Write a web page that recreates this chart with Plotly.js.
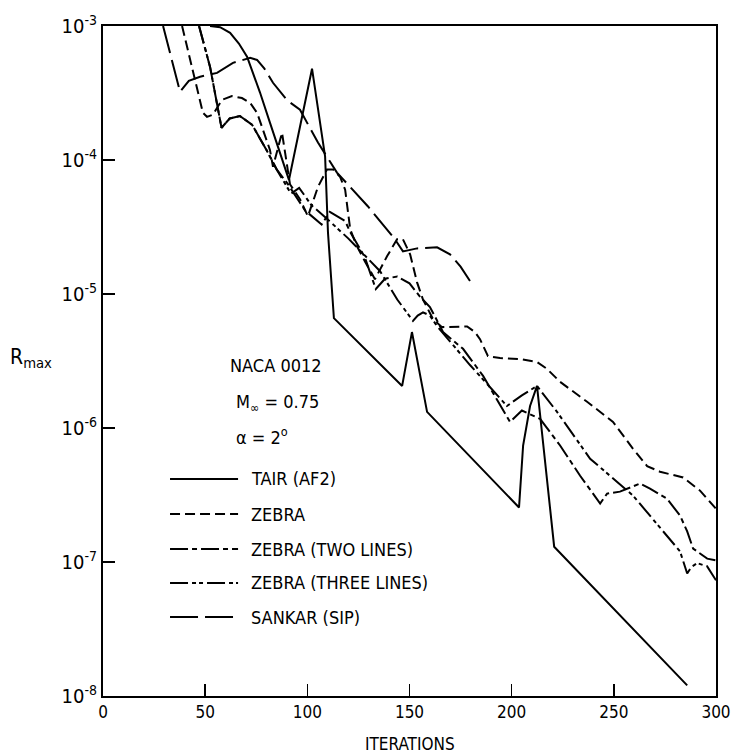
<!DOCTYPE html>
<html>
<head>
<meta charset="utf-8">
<script src="https://cdn.plot.ly/plotly-3.0.1.min.js"></script>
<style>html,body{margin:0;padding:0;background:#fff;}</style>
</head>
<body>
<div id="chart" style="width:731px;height:755px;"></div>
<script>
// ---- data ----
const tairX = [52.4, 57.3, 62.2, 66.5, 70.5, 76.8, 81.7, 85.7, 91.0, 102.3, 108.7, 110.1, 113.0, 146.4, 151.2, 158.6, 203.6, 205.6, 209.0, 212.4, 220.8, 285.9];
const tairY = [1.0e-3, 9.8e-4, 8.9e-4, 7.4e-4, 5.9e-4, 3.2e-4, 1.9e-4, 1.26e-4, 7.1e-5, 4.8e-4, 1.06e-4, 2.88e-5, 6.6e-6, 2.06e-6, 5.2e-6, 1.32e-6, 2.55e-7, 7.4e-7, 1.46e-6, 2.06e-6, 1.3e-7, 1.2e-8];

const zebraX = [38.7, 44.0, 48.9, 50.9, 53.8, 58.2, 63.1, 68.0, 72.0, 75.4, 78.3, 81.7, 83.2, 87.6, 91.5, 96.4, 100.3, 105.2, 109.6, 112.6, 116.0, 118.5, 121.0, 124.3, 128.2, 133.1, 139.0, 143.9, 146.8, 150.3, 153.7, 156.6, 161.5, 165.9, 178.2, 182.0, 184.5, 188.4, 194.3, 204.1, 212.4, 217.3, 223.7, 236.9, 249.6, 259.4, 266.3, 272.6, 283.9, 292.2, 300.0];
const zebraY = [1.0e-3, 4.7e-4, 2.25e-4, 2.1e-4, 2.18e-4, 2.81e-4, 3.0e-4, 2.9e-4, 2.67e-4, 2.25e-4, 1.68e-4, 1.19e-4, 8.9e-5, 1.6e-4, 6.6e-5, 5.1e-5, 3.8e-5, 6.3e-5, 8.5e-5, 8.5e-5, 7.5e-5, 6.0e-5, 3.03e-5, 2.27e-5, 1.75e-5, 1.29e-5, 1.91e-5, 2.56e-5, 2.56e-5, 1.98e-5, 1.22e-5, 9.1e-6, 6.5e-6, 5.66e-6, 5.73e-6, 5.2e-6, 4.6e-6, 3.44e-6, 3.33e-6, 3.27e-6, 3.11e-6, 2.76e-6, 2.21e-6, 1.57e-6, 1.11e-6, 7.0e-7, 5.2e-7, 4.72e-7, 4.27e-7, 3.41e-7, 2.5e-7];

const twoX = [47.0, 52.4, 58.0, 62.0, 67.0, 73.0, 80.0, 85.0, 90.5, 98.9, 107.0, 111.0, 118.5, 121.0, 128.0, 133.5, 138.0, 144.0, 150.0, 155.0, 160.0, 166.4, 176.2, 186.0, 199.2, 205.0, 213.9, 223.7, 233.5, 243.3, 246.7, 253.0, 262.8, 267.7, 276.0, 282.4, 285.9, 288.8, 295.7, 300.0];
const twoY = [1.0e-3, 4.95e-4, 1.74e-4, 2.04e-4, 2.13e-4, 1.83e-4, 1.19e-4, 8.5e-5, 6.6e-5, 4.2e-5, 3.3e-5, 4.1e-5, 3.5e-5, 2.9e-5, 1.9e-5, 1.09e-5, 1.3e-5, 1.35e-5, 1.2e-5, 9.6e-6, 8.0e-6, 5.2e-6, 3.9e-6, 2.45e-6, 1.11e-6, 1.35e-6, 1.17e-6, 7.4e-7, 4.4e-7, 2.73e-7, 3.24e-7, 3.35e-7, 3.85e-7, 3.53e-7, 2.97e-7, 2.22e-7, 1.69e-7, 1.26e-7, 1.06e-7, 1.03e-7];

const threeX = [47.0, 52.4, 58.0, 62.0, 67.0, 73.0, 80.0, 85.0, 92.0, 96.0, 102.0, 110.0, 120.0, 128.0, 135.6, 144.0, 151.7, 154.0, 156.6, 160.0, 163.5, 179.6, 197.7, 205.0, 212.4, 222.2, 238.4, 259.4, 282.4, 285.9, 288.0, 290.8, 295.6, 300.0];
const threeY = [1.0e-3, 4.95e-4, 1.74e-4, 2.04e-4, 2.13e-4, 1.83e-4, 1.19e-4, 8.5e-5, 5.6e-5, 6.2e-5, 4.6e-5, 3.6e-5, 2.6e-5, 1.95e-5, 1.48e-5, 9.1e-6, 6.3e-6, 6.9e-6, 7.3e-6, 6.9e-6, 5.75e-6, 2.95e-6, 1.46e-6, 1.75e-6, 2.06e-6, 1.32e-6, 5.9e-7, 3.13e-7, 1.2e-7, 8.2e-8, 9.2e-8, 9.8e-8, 9.3e-8, 7.3e-8];

const sankarX = [29.4, 37.7, 42.0, 47.5, 55.8, 63.6, 72.0, 75.4, 79.0, 83.2, 90.0, 96.4, 105.2, 114.5, 129.7, 142.9, 146.8, 153.7, 163.5, 169.8, 175.0, 179.6];
const sankarY = [1.0e-3, 3.23e-4, 3.9e-4, 4.18e-4, 4.47e-4, 5.31e-4, 5.78e-4, 5.58e-4, 4.8e-4, 3.77e-4, 2.8e-4, 2.37e-4, 1.35e-4, 8.05e-5, 4.5e-5, 2.56e-5, 2.08e-5, 2.19e-5, 2.23e-5, 1.98e-5, 1.6e-5, 1.25e-5];

const seriesNames = ["TAIR (AF2)", "ZEBRA", "ZEBRA (TWO LINES)", "ZEBRA (THREE LINES)", "SANKAR (SIP)"];
const xTicks = [0, 50, 100, 150, 200, 250, 300];
const yTicks = [1e-8, 1e-7, 1e-6, 1e-5, 1e-4, 1e-3];
const yTickText = ["10<sup>-8</sup>", "10<sup>-7</sup>", "10<sup>-6</sup>", "10<sup>-5</sup>", "10<sup>-4</sup>", "10<sup>-3</sup>"];
const infoLines = ["NACA 0012", "M<sub>∞</sub> = 0.75", "α = 2<sup>o</sup>"];

// ---- styling ----
const FONT = "DejaVu Sans Condensed, Liberation Sans Narrow, DejaVu Sans, sans-serif";
const dashes = ["solid", "10px,5px", "18px,4px,5px,4px", "18px,4px,4px,3px,4px,4px", "28px,7px"];
const xs = [tairX, zebraX, twoX, threeX, sankarX];
const ys = [tairY, zebraY, twoY, threeY, sankarY];

const traces = xs.map((x, i) => ({
  x: x, y: ys[i], type: "scatter", mode: "lines", name: seriesNames[i],
  line: {color: "#000", width: 2, dash: dashes[i]}, showlegend: false
}));

// legend positions (paper y) and x span (data)
const legY = [0.3239, 0.2716, 0.2194, 0.1687, 0.1179];
const shapes = legY.map((yy, i) => ({
  type: "line", xref: "x", yref: "paper", x0: 32.8, x1: 66.1, y0: yy, y1: yy,
  line: {color: "#000", width: 2, dash: dashes[i]}
}));

const annotations = [];
legY.forEach((yy, i) => annotations.push({
  xref: "x", yref: "paper", x: 71.5, y: yy, xanchor: "left", yanchor: "middle",
  text: seriesNames[i], showarrow: false, font: {family: FONT, size: 18, color: "#000"}
}));
const infoY = [0.494, 0.437, 0.388];
const infoX = [61.2, 64.2, 64.2];
infoLines.forEach((t, i) => annotations.push({
  xref: "x", yref: "paper", x: infoX[i], y: infoY[i], xanchor: "left", yanchor: "middle",
  text: t, showarrow: false, font: {family: FONT, size: 18, color: "#000"}
}));
annotations.push({
  xref: "paper", yref: "paper", x: 0.5, y: -0.072, xanchor: "center", yanchor: "middle",
  text: "ITERATIONS", showarrow: false, font: {family: FONT, size: 17, color: "#000"}
});
annotations.push({
  xref: "paper", yref: "paper", x: -0.155, y: 0.505, xanchor: "left", yanchor: "middle",
  text: "R<sub>max</sub>", showarrow: false, font: {family: FONT, size: 21, color: "#000"}
});

const layout = {
  width: 731, height: 755,
  margin: {l: 103, r: 15, t: 26, b: 59},
  paper_bgcolor: "#fff", plot_bgcolor: "#fff",
  font: {family: FONT, color: "#000"},
  xaxis: {
    range: [0, 300], tickvals: xTicks, ticktext: xTicks.map(String),
    ticks: "inside", ticklen: 12, tickwidth: 1.5, tickcolor: "#000",
    showline: true, linewidth: 2, linecolor: "#000", mirror: true,
    showgrid: false, zeroline: false,
    tickfont: {family: FONT, size: 17, color: "#000"}
  },
  yaxis: {
    type: "log", range: [-8, -3], tickvals: yTicks, ticktext: yTickText,
    ticks: "inside", ticklen: 12, tickwidth: 1.5, tickcolor: "#000",
    showline: true, linewidth: 2, linecolor: "#000", mirror: true,
    showgrid: false, zeroline: false,
    tickfont: {family: FONT, size: 20, color: "#000"}
  },
  shapes: shapes,
  annotations: annotations,
  showlegend: false
};

Plotly.newPlot("chart", traces, layout, {staticPlot: true, displayModeBar: false});
</script>
</body>
</html>
